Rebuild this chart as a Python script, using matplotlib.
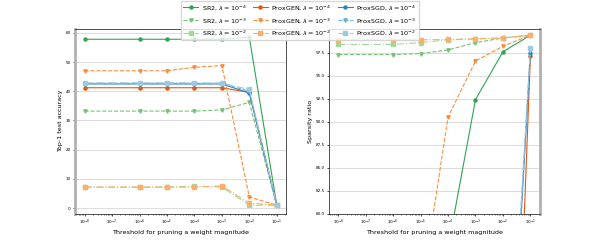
import matplotlib
matplotlib.use("Agg")
import matplotlib.pyplot as plt

thresholds = [1e-8, 1e-6, 1e-5, 1e-4, 1e-3, 1e-2, 1e-1]

methods = ["SR2", "ProxGEN", "ProxSGD"]
lambdas = ["-4", "-3", "-2"]

# top-1 test accuracy
acc_sr2_4 = [57.8, 57.8, 57.8, 57.8, 57.8, 58.5, 1.0]
acc_sr2_3 = [33.2, 33.2, 33.2, 33.2, 33.6, 36.2, 1.0]
acc_sr2_2 = [7.2, 7.2, 7.2, 7.5, 7.2, 1.0, 1.0]
acc_gen_4 = [41.2, 41.2, 41.2, 41.2, 41.2, 39.6, 1.0]
acc_gen_3 = [47.0, 47.0, 47.0, 48.2, 48.8, 3.8, 1.0]
acc_gen_2 = [7.2, 7.2, 7.2, 7.2, 7.6, 1.7, 1.0]
acc_sgd_4 = [42.5, 42.5, 42.5, 42.5, 42.5, 39.4, 1.0]
acc_sgd_3 = [42.7, 42.7, 42.7, 42.7, 42.7, 40.0, 1.0]
acc_sgd_2 = [42.9, 42.9, 42.9, 42.9, 42.8, 40.6, 1.0]

# sparsity ratio
sp_sr2_4 = [52.0, 58.0, 65.0, 76.3, 92.4, 97.6, 99.4]
sp_sr2_3 = [97.3, 97.3, 97.4, 97.8, 98.6, 99.1, 99.4]
sp_sr2_2 = [98.4, 98.4, 98.6, 98.9, 99.0, 99.1, 99.4]
sp_gen_4 = [3.0, 5.0, 7.0, 10.0, 14.0, 19.4, 97.1]
sp_gen_3 = [55.0, 62.0, 71.0, 90.5, 96.6, 98.2, 99.4]
sp_gen_2 = [98.9, 98.9, 98.9, 98.95, 99.0, 99.1, 99.4]
sp_sgd_4 = [5.0, 8.0, 12.0, 18.0, 28.0, 45.0, 97.5]
sp_sgd_3 = [5.5, 8.5, 12.5, 19.0, 30.0, 47.0, 97.8]
sp_sgd_2 = [6.0, 9.0, 13.0, 20.0, 31.0, 48.0, 98.0]

accuracy = {
    "SR2": [acc_sr2_4, acc_sr2_3, acc_sr2_2],
    "ProxGEN": [acc_gen_4, acc_gen_3, acc_gen_2],
    "ProxSGD": [acc_sgd_4, acc_sgd_3, acc_sgd_2],
}
sparsity = {
    "SR2": [sp_sr2_4, sp_sr2_3, sp_sr2_2],
    "ProxGEN": [sp_gen_4, sp_gen_3, sp_gen_2],
    "ProxSGD": [sp_sgd_4, sp_sgd_3, sp_sgd_2],
}

COLORS = {
    "SR2": ["#31a354", "#74c476", "#a1d99b"],
    "ProxGEN": ["#e6550d", "#fd8d3c", "#fdae6b"],
    "ProxSGD": ["#3182bd", "#6baed6", "#9ecae1"],
}
MARKERS = ["o", "v", "s"]
MSIZES = [2.2, 2.4, 3.0]
LSTYLES = ["-", "--", "-."]


def style_axes(ax, gray_side):
    ax.set_xscale("log")
    ax.grid(axis="y", color="#dddddd", linewidth=0.8)
    ax.grid(axis="x", visible=False)
    ax.set_axisbelow(True)
    for side in ["left", "right", "top", "bottom"]:
        ax.spines[side].set_color("#333333")
        ax.spines[side].set_linewidth(0.6)
    ax.spines[gray_side].set_color("#b0b0b0")
    ax.spines[gray_side].set_linewidth(2.0)
    ax.tick_params(axis="both", which="major", labelsize=3, length=1.5, width=0.5, pad=1.5)
    ax.tick_params(axis="x", which="minor", length=1, width=0.4)
    ax.set_xticks([1e-8, 1e-7, 1e-6, 1e-5, 1e-4, 1e-3, 1e-2, 1e-1])
    ax.set_xlabel("Threshold for pruning a weight magnitude", fontsize=4.6, labelpad=2)


fig, (ax1, ax2) = plt.subplots(1, 2, figsize=(6, 2.4), dpi=100)

handles = []
for method in methods:
    for i, lam in enumerate(lambdas):
        label = f"{method}, $\\lambda = 10^{{{lam}}}$"
        kw = dict(
            color=COLORS[method][i],
            marker=MARKERS[i],
            markersize=MSIZES[i],
            linestyle=LSTYLES[i],
            linewidth=0.8,
        )
        (h,) = ax1.plot(thresholds, accuracy[method][i], label=label, **kw)
        ax2.plot(thresholds, sparsity[method][i], **kw)
        handles.append(h)

style_axes(ax1, "left")
style_axes(ax2, "right")

ax1.set_ylabel("Top-1 test accuracy", fontsize=4.6, labelpad=2)
ax1.set_yticks([0, 10, 20, 30, 40, 50, 60])

ax2.set_ylabel("Sparsity ratio", fontsize=4.6, labelpad=2)
ax2.set_ylim(80, 100.1)
ax2.set_yticks([80, 82.5, 85, 87.5, 90, 92.5, 95, 97.5])
ax2.set_yticklabels(["80.0", "82.5", "85.0", "87.5", "90.0", "92.5", "95.0", "97.5"])

fig.legend(
    handles=handles,
    loc="upper center",
    bbox_to_anchor=(0.5, 1.01),
    ncol=3,
    fontsize=4.6,
    frameon=True,
    edgecolor="#cccccc",
    fancybox=False,
    handlelength=2.3,
    handletextpad=0.6,
    columnspacing=1.0,
    labelspacing=0.6,
    borderpad=0.4,
)

fig.savefig("out.png", dpi=100)
